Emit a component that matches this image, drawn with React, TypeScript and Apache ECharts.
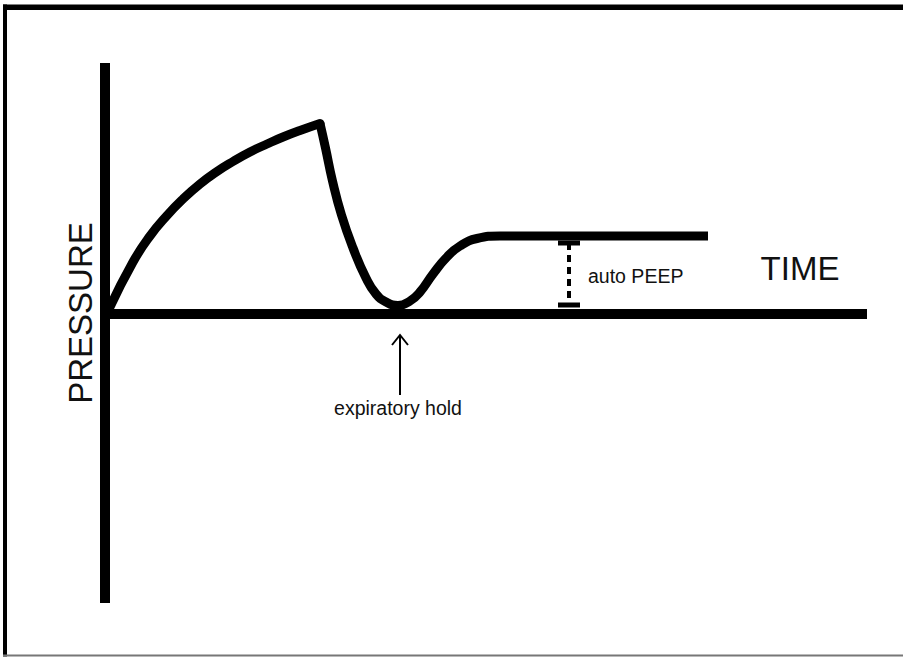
import React, { useEffect, useRef } from "react";
import * as echarts from "echarts";

// Time (x) and pressure (y) in arbitrary units
const riseTime = [0.4, 2.8, 4.5, 6.2, 7.8, 9.5, 11.2, 12.8, 14.5, 16.2, 17.8, 19.5, 21.5];
const risePressure = [0.5, 5.2, 7.8, 9.85, 11.5, 13.0, 14.25, 15.25, 16.2, 17.0, 17.7, 18.35, 19.05];

const fallTime = [21.5, 22.05, 22.75, 23.65, 24.8, 26.1, 27.1, 28.1, 29.3, 30.5, 31.5, 32.8, 34.2, 35.5, 37.2, 39.5, 41.5, 60.3];
const fallPressure = [19.05, 16.6, 13.3, 9.9, 6.6, 3.6, 2.0, 1.2, 0.85, 1.3, 2.2, 4.0, 5.7, 6.8, 7.55, 7.8, 7.8, 7.8];

const autoPeepTime = 46.4;
const autoPeepTop = 7.1;
const autoPeepBottom = 0.9;
const capHalf = 1.1;

const holdTime = 29.5;
const arrowTop = -2.1;
const arrowBottom = -8.1;

const xMin = 0;
const xMax = 76.2;
const yMin = -28.9;
const yMax = 25.1;

const FONT = "'Liberation Sans', Arial, sans-serif";

const zip = (a: number[], b: number[]) => a.map((v, i) => [v, b[i]]);

export default function App() {
  const ref = useRef<HTMLDivElement>(null);
  useEffect(() => {
    if (!ref.current) return;
    const chart = echarts.init(ref.current, undefined, { renderer: "svg" });
    const black = "#000";
    chart.setOption({
      animation: false,
      backgroundColor: "#fff",
      grid: { left: 105, right: 36, top: 63, bottom: 54, containLabel: false },
      xAxis: {
        type: "value",
        min: xMin,
        max: xMax,
        axisLine: { show: true, onZero: true, lineStyle: { color: black, width: 10, cap: "butt" } },
        axisTick: { show: false },
        axisLabel: { show: false },
        splitLine: { show: false },
      },
      yAxis: {
        type: "value",
        min: yMin,
        max: yMax,
        axisLine: { show: true, onZero: false, lineStyle: { color: black, width: 10, cap: "butt" } },
        axisTick: { show: false },
        axisLabel: { show: false },
        splitLine: { show: false },
      },
      series: [
        {
          type: "line",
          data: zip(fallTime, fallPressure),
          smooth: 0.5,
          symbol: "none",
          lineStyle: { color: black, width: 9, cap: "butt", join: "round" },
        },
        {
          type: "line",
          data: zip(riseTime, risePressure),
          smooth: 0.5,
          symbol: "none",
          lineStyle: { color: black, width: 9, cap: "round", join: "round" },
        },
        {
          type: "line",
          data: [
            [autoPeepTime, autoPeepTop],
            [autoPeepTime, autoPeepBottom],
          ],
          symbol: "none",
          lineStyle: { color: black, width: 4, type: [7, 5] },
        },
        {
          type: "line",
          data: [
            [autoPeepTime - capHalf, autoPeepTop],
            [autoPeepTime + capHalf, autoPeepTop],
          ],
          symbol: "none",
          lineStyle: { color: black, width: 5 },
        },
        {
          type: "line",
          data: [
            [autoPeepTime - capHalf, autoPeepBottom],
            [autoPeepTime + capHalf, autoPeepBottom],
          ],
          symbol: "none",
          lineStyle: { color: black, width: 5 },
        },
        {
          type: "line",
          data: [
            [holdTime, arrowTop],
            [holdTime, arrowBottom],
          ],
          symbol: "none",
          lineStyle: { color: black, width: 2 },
        },
        {
          type: "line",
          data: [
            [holdTime - 0.8, arrowTop - 1.0],
            [holdTime, arrowTop],
            [holdTime + 0.8, arrowTop - 1.0],
          ],
          symbol: "none",
          lineStyle: { color: black, width: 2, join: "miter" },
        },
      ],
      graphic: [
        { type: "rect", shape: { x: 3, y: 4.5, width: 900, height: 5.5 }, style: { fill: "#000" }, silent: true },
        { type: "rect", shape: { x: 3, y: 4.5, width: 4, height: 652 }, style: { fill: "#000" }, silent: true },
        { type: "rect", shape: { x: 3, y: 654.5, width: 900, height: 2 }, style: { fill: "#777" }, silent: true },
        {
          type: "text",
          x: 80,
          y: 313,
          rotation: Math.PI / 2,
          style: { text: "PRESSURE", fill: "#111", font: `33px ${FONT}`, align: "center", verticalAlign: "middle" },
        },
        {
          type: "text",
          x: 800,
          y: 268,
          style: { text: "TIME", fill: "#111", font: `33px ${FONT}`, align: "center", verticalAlign: "middle" },
        },
        {
          type: "text",
          x: 588,
          y: 276,
          style: { text: "auto PEEP", fill: "#111", font: `19.5px ${FONT}`, align: "left", verticalAlign: "middle" },
        },
        {
          type: "text",
          x: 398,
          y: 408,
          style: { text: "expiratory hold", fill: "#111", font: `19.5px ${FONT}`, align: "center", verticalAlign: "middle" },
        },
      ],
    });
    return () => chart.dispose();
  }, []);
  return (
    <div
      ref={ref}
      style={{ position: "fixed", left: 0, top: 0, width: 903, height: 657, background: "#fff" }}
    />
  );
}
